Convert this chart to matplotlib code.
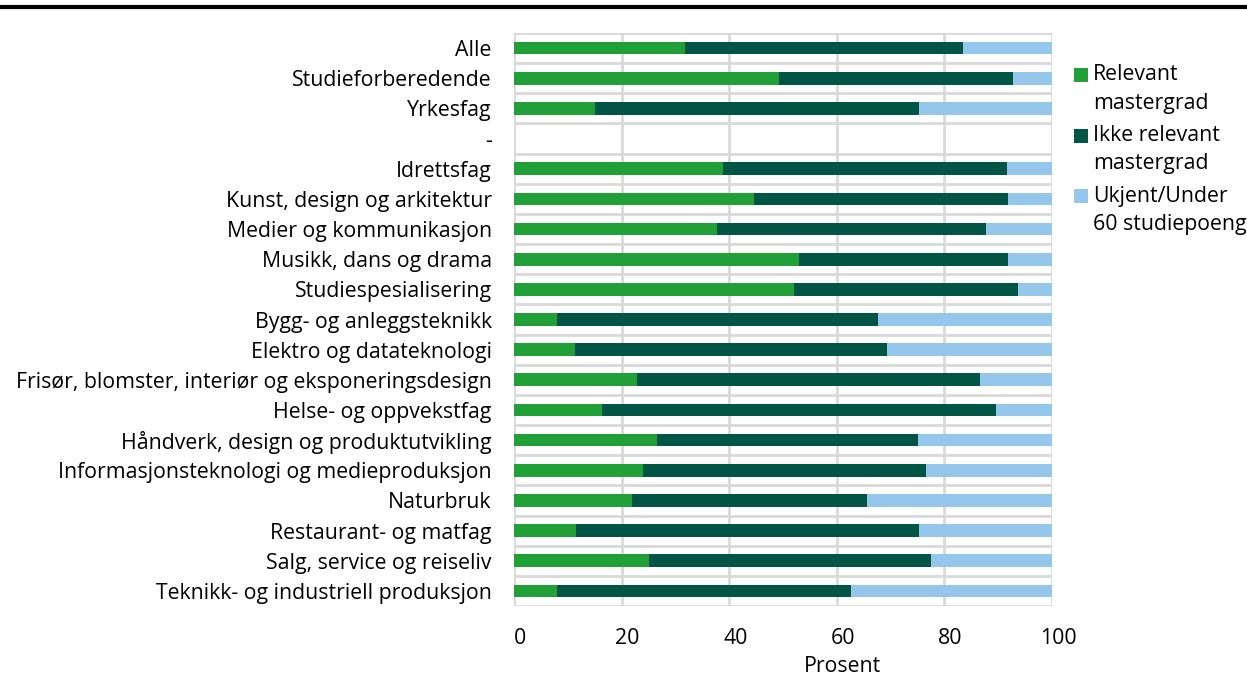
import matplotlib
matplotlib.use("Agg")
import matplotlib.pyplot as plt
import matplotlib.transforms as mtransforms
from matplotlib.patches import Rectangle
import numpy as np

plt.rcParams['font.family'] = ['Open Sans', 'DejaVu Sans']

categories = [
    "Alle", "Studieforberedende", "Yrkesfag", "-", "Idrettsfag",
    "Kunst, design og arkitektur", "Medier og kommunikasjon",
    "Musikk, dans og drama", "Studiespesialisering",
    "Bygg- og anleggsteknikk", "Elektro og datateknologi",
    "Frisør, blomster, interiør og eksponeringsdesign",
    "Helse- og oppvekstfag", "Håndverk, design og produktutvikling",
    "Informasjonsteknologi og medieproduksjon", "Naturbruk",
    "Restaurant- og matfag", "Salg, service og reiseliv",
    "Teknikk- og industriell produksjon",
]
relevant = [31.7, 49.2, 15.1, 0, 38.9, 44.7, 37.7, 52.9, 52.0, 7.9, 11.4,
            22.8, 16.3, 26.6, 23.9, 22.0, 11.5, 25.0, 8.0]
ikke_relevant = [51.8, 43.6, 60.2, 0, 52.8, 47.1, 50.1, 39.0, 41.7, 59.7, 58.0,
                 63.8, 73.3, 48.4, 52.6, 43.6, 63.7, 52.6, 54.7]
ukjent = [16.5, 7.2, 24.7, 0, 8.3, 8.2, 12.2, 8.1, 6.3, 32.4, 30.6,
          13.4, 10.4, 25.0, 23.5, 34.4, 24.8, 22.4, 37.3]
series_names = ["Relevant\nmastergrad", "Ikke relevant\nmastergrad", "Ukjent/Under\n60 studiepoeng"]
colors = ["#21a038", "#005545", "#95c6ec"]
xticks = [0, 20, 40, 60, 80, 100]

FS = 15.3
W, H = 1247, 677
fig = plt.figure(figsize=(W/100, H/100), dpi=100)
ax = fig.add_axes([514/W, 1 - 606/H, (1052-514)/W, (606-33)/H])

y = np.arange(len(categories))
left = np.zeros(len(categories))
for vals, c in zip([relevant, ikke_relevant, ukjent], colors):
    ax.barh(y, vals, left=left, height=0.42, color=c, zorder=3)
    left = left + np.array(vals)

ax.set_xlim(0, 100)
ax.set_ylim(len(categories) - 0.5, -0.5)
ax.set_yticks(y)
ax.set_yticklabels(categories, fontsize=FS)
ax.set_yticks(np.arange(-0.5, len(categories), 1.0), minor=True)
ax.set_xticks(xticks)
ax.set_xticklabels([str(t) for t in xticks], fontsize=FS)
ax.tick_params(axis='both', which='both', length=0)
ax.tick_params(axis='y', pad=16)
ax.tick_params(axis='x', pad=16)
offset = mtransforms.ScaledTranslation(6/100, 0, fig.dpi_scale_trans)
for lbl in ax.get_xticklabels():
    lbl.set_transform(lbl.get_transform() + offset)

ax.grid(axis='x', which='major', color='#d9d9d9', linewidth=2, zorder=0)
ax.grid(axis='y', which='minor', color='#d9d9d9', linewidth=2, zorder=0)
for s in ax.spines.values():
    s.set_visible(False)

ax.set_xlabel("Prosent", fontsize=FS, labelpad=5)
ax.xaxis.label.set_x((843 - 514) / (1052 - 514))

# Legend drawn manually (square aligned with first line of each entry)
entry_top = [75, 135.5, 196]
line_gap = 28.5
for name, c, yt in zip(series_names, colors, entry_top):
    fig.add_artist(Rectangle((1074/W, 1 - (yt + 7)/H), 14/W, 14/H,
                             facecolor=c, edgecolor='none',
                             transform=fig.transFigure))
    for i, line in enumerate(name.split("\n")):
        fig.text(1093/W, 1 - (yt + i*line_gap)/H, line, fontsize=FS,
                 ha='left', va='center')

fig.add_artist(plt.Line2D([0.002, 1.0], [1 - 7/H, 1 - 7/H], color='black',
                          linewidth=3, transform=fig.transFigure))

fig.savefig("out.png", dpi=100)
